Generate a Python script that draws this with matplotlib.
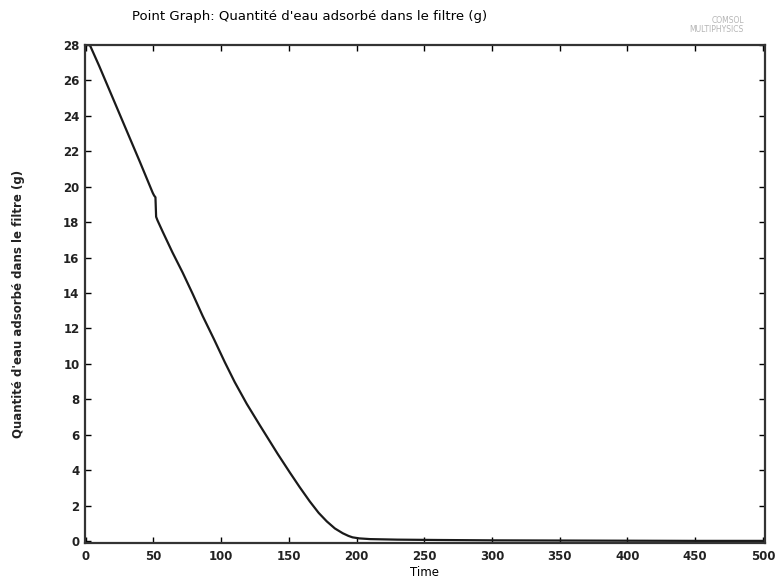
import numpy as np
import matplotlib.pyplot as plt

# values
time = [0, 3, 10, 20, 30, 40, 49.5, 50.5, 51.5, 52, 53, 56.9, 64, 71.6, 79,
        86.4, 95, 102.7, 110, 118.9, 128.5, 141.8, 150.7, 158, 165.4, 172,
        178, 184, 189.8, 194, 197, 202, 210, 230, 260, 300, 350, 400, 450, 500]
water = [28, 28, 26.8, 25.0, 23.2, 21.4, 19.65, 19.5, 19.4, 18.3, 18.1, 17.45,
         16.3, 15.15, 13.95, 12.7, 11.35, 10.1, 8.98, 7.75, 6.55, 4.92, 3.88,
         3.05, 2.25, 1.6, 1.12, 0.72, 0.45, 0.3, 0.22, 0.16, 0.12, 0.09, 0.07,
         0.05, 0.04, 0.03, 0.02, 0.02]

xticks = np.arange(0, 501, 50)
yticks = np.arange(0, 29, 2)

fig = plt.figure(figsize=(7.75, 5.82), dpi=100)
ax = fig.add_axes([0.1097, 0.067, 0.8773, 0.856])

ax.plot(time, water, color="#1a1a1a", lw=1.6)

ax.set_xlim(-0.5, 501.5)
ax.set_ylim(-0.1, 28)
ax.set_xticks(xticks)
ax.set_yticks(yticks)
ax.tick_params(direction="in", top=True, right=True, length=4, width=1,
               labelsize=8.5)
ax.tick_params(axis="x", pad=5)
ax.tick_params(axis="y", pad=4)
for lab in ax.get_xticklabels() + ax.get_yticklabels():
    lab.set_fontweight("bold")
    lab.set_color("#222222")
for sp in ax.spines.values():
    sp.set_linewidth(1.6)
    sp.set_color("#333333")

ax.set_xlabel("Time", fontsize=8.5, labelpad=2)
ax.set_ylabel("Quantité d'eau adsorbé dans le filtre (g)", fontsize=8.5,
              fontweight="bold", color="#222222")
ax.yaxis.set_label_coords(-0.089, 0.48)
fig.text(0.40, 0.972, "Point Graph: Quantité d'eau adsorbé dans le filtre (g)",
         fontsize=9.5, ha="center", va="center")
fig.text(0.96, 0.957, "COMSOL\nMULTIPHYSICS", fontsize=5.5, color="#b5b5b5",
         ha="right", va="center", linespacing=0.9)

fig.savefig("out.png", dpi=100)
